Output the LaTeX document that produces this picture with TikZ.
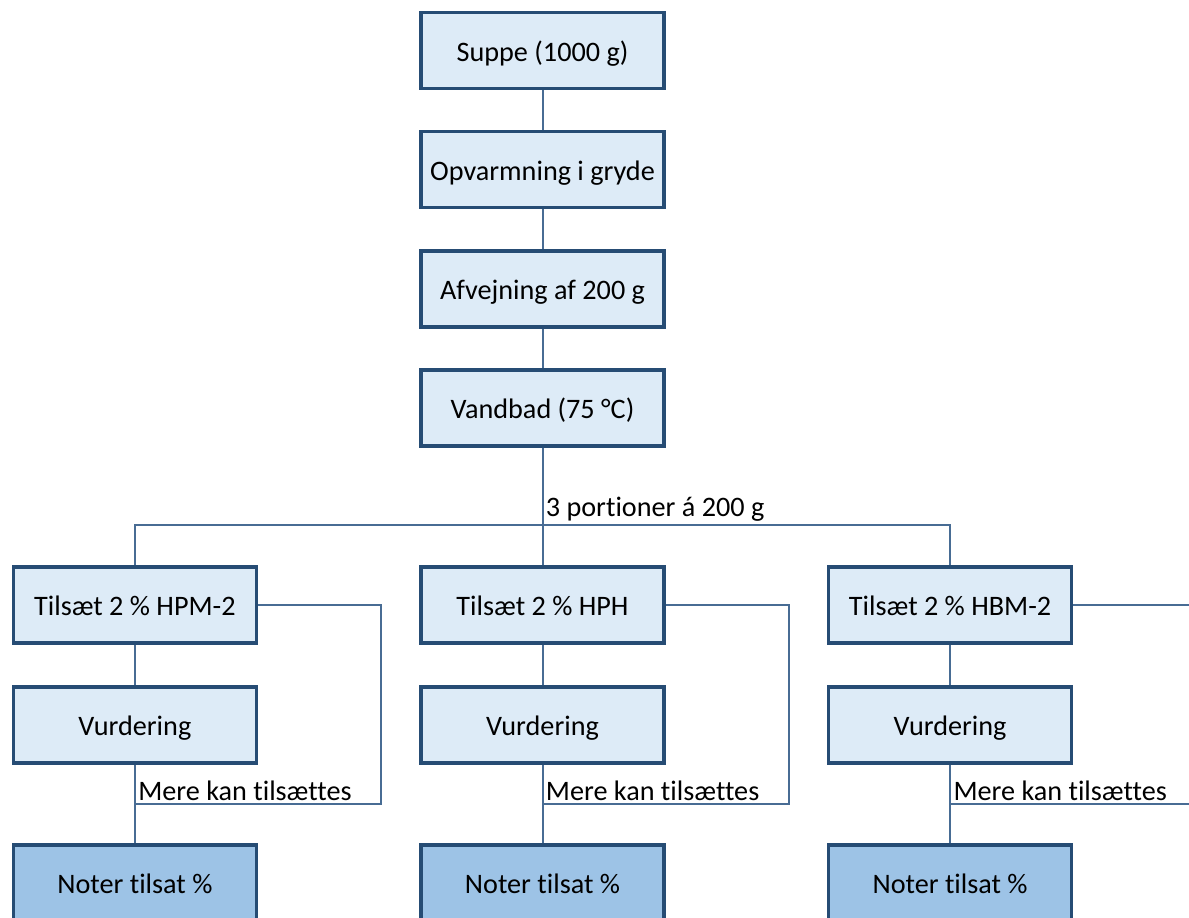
\documentclass[tikz,border=0pt]{standalone}
\usepackage{fontspec}
\setmainfont{Carlito}[Ligatures=NoCommon]
\usepackage{tikz}
\usetikzlibrary{
    positioning,
    calc
}
\definecolor{boxfill}{RGB}{221,235,247}
\definecolor{notefill}{RGB}{157,195,230}
\definecolor{boxline}{RGB}{38,76,116}
\definecolor{connline}{RGB}{72,108,148}
\tikzset{
    process/.style = {
        rectangle,
        draw=boxline,
        line width=1.8pt,
        fill=boxfill,
        minimum width=121.5pt,
        minimum height=38pt,
        text height=11pt,
        text depth=0pt,
        align=center,
        font=\fontsize{14.1}{17}\selectfont
    },
    result/.style = {
        process,
        fill=notefill
    },
    conn/.style = {
        draw=connline,
        line width=1pt
    },
    lbl/.style = {
        inner sep=1.5pt,
        font=\fontsize{14.1}{17}\selectfont
    }
}
\begin{document}
\begin{tikzpicture}[node distance=19.75pt and 80.5pt]
\useasboundingbox (0,0) rectangle (594.5pt,-458.5pt);
\clip (0,0) rectangle (594.5pt,-458.5pt);

\node (suppe) [process] at (271.25pt,-25.25pt) {Suppe (1000 g)};
\node (opvarm) [process, below=of suppe] {Opvarmning i gryde};
\node (afvej) [process, below=of opvarm] {Afvejning af 200 g};
\node (vandbad) [process, below=of afvej] {Vandbad (75 °C)};

\node (tilsB) [process, below=58.7pt of vandbad] {Tilsæt 2 \% HPH};
\node (tilsA) [process, left=of tilsB] {Tilsæt 2 \% HPM-2};
\node (tilsC) [process, right=of tilsB] {Tilsæt 2 \% HBM-2};

\node (vurdA) [process, below=20.2pt of tilsA] {Vurdering};
\node (vurdB) [process, below=20.2pt of tilsB] {Vurdering};
\node (vurdC) [process, below=20.2pt of tilsC] {Vurdering};

\node (noterA) [result, below=39.2pt of vurdA] {Noter tilsat \%};
\node (noterB) [result, below=39.2pt of vurdB] {Noter tilsat \%};
\node (noterC) [result, below=39.2pt of vurdC] {Noter tilsat \%};

\coordinate (split) at ($(vandbad.south)+(0,-38.7pt)$);
\coordinate (mereA) at ($(vurdA.south)!0.5!(noterA.north)$);
\coordinate (mereB) at ($(vurdB.south)!0.5!(noterB.north)$);
\coordinate (mereC) at ($(vurdC.south)!0.5!(noterC.north)$);

\draw [conn] (suppe) -- (opvarm);
\draw [conn] (opvarm) -- (afvej);
\draw [conn] (afvej) -- (vandbad);
\draw [conn] (vandbad) -- (tilsB);
\draw [conn] (tilsA.north) |- (split) -| (tilsC.north);
\node (portion) [lbl, anchor=south west] at (split) {3 portioner á 200 g};

\draw [conn] (tilsA) -- (vurdA);
\draw [conn] (tilsB) -- (vurdB);
\draw [conn] (tilsC) -- (vurdC);
\draw [conn] (vurdA) -- (noterA);
\draw [conn] (vurdB) -- (noterB);
\draw [conn] (vurdC) -- (noterC);

% tilbageloeb
\draw [conn] (tilsA.east) -- ++(61.5pt,0) |- (mereA);
\draw [conn] (tilsB.east) -- ++(61.5pt,0) |- (mereB);
\draw [conn] (tilsC.east) -- ++(61.5pt,0) |- (mereC);
\node (mereTxtA) [lbl, anchor=south west] at (mereA) {Mere kan tilsættes};
\node (mereTxtB) [lbl, anchor=south west] at (mereB) {Mere kan tilsættes};
\node (mereTxtC) [lbl, anchor=south west] at (mereC) {Mere kan tilsættes};
\end{tikzpicture}
\end{document}
